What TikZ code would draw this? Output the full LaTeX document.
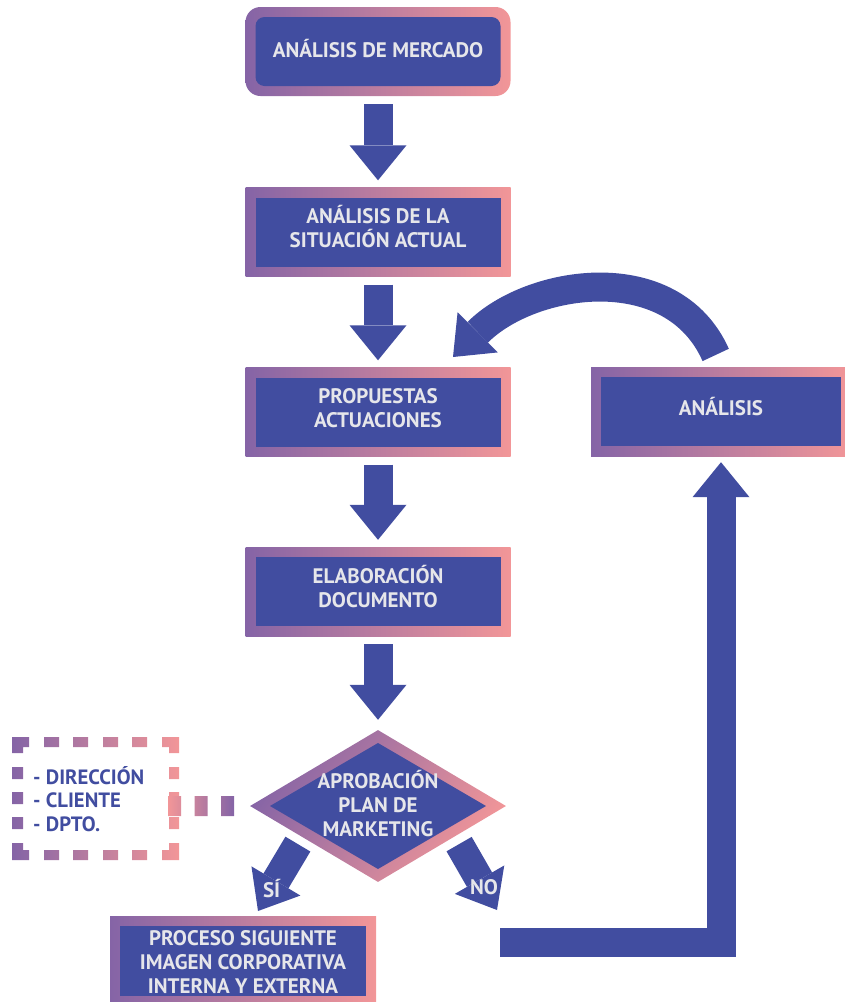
\documentclass[tikz,border=0pt]{standalone}
\usepackage{fontspec}
\setmainfont{PT Sans}
\usetikzlibrary{arrows.meta,shapes.geometric}
\definecolor{boxblue}{HTML}{414DA0}
\definecolor{purp}{HTML}{8564A6}
\definecolor{pinkc}{HTML}{F29698}
\definecolor{lightgrey}{HTML}{E6E6EA}
\newcommand{\boxfont}{\fontsize{21}{24}\selectfont\bfseries}

\begin{document}
\begin{tikzpicture}[x=1pt, y=1pt,
        box/.style={rectangle, minimum width=265pt, minimum height=89pt, inner sep=0pt, left color=purp, right color=pinkc, text=lightgrey, align=center, font=\boxfont, text height=39pt, text depth=7.3pt,
            path picture={\fill[boxblue] ([shift={(10pt,10pt)}]path picture bounding box.south west) rectangle ([shift={(-10pt,-10pt)}]path picture bounding box.north east);}},
        roundbox/.style={box, rounded corners=15pt,
            path picture={\fill[boxblue, rounded corners=9pt] ([shift={(10pt,10pt)}]path picture bounding box.south west) rectangle ([shift={(-10pt,-10pt)}]path picture bounding box.north east);}},
        decision/.style={diamond, minimum width=256pt, minimum height=152pt, aspect=1.68, inner sep=0pt, top color=purp, bottom color=pinkc, shading angle=55, text=lightgrey, align=center, font=\boxfont, text height=67pt, text depth=5.3pt,
            path picture={\fill[boxblue] ([yshift=63pt]path picture bounding box.center) -- ([xshift=108pt]path picture bounding box.center) -- ([yshift=-63pt]path picture bounding box.center) -- ([xshift=-108pt]path picture bounding box.center) -- cycle;}},
        bigarrow/.style={draw=boxblue, line width=29pt, -{Triangle[length=35pt, width=57pt, line width=0pt]}, shorten <=8pt, shorten >=7pt}
    ]
        \useasboundingbox (0,0) rectangle (845,-1002);
        \clip (0,0) rectangle (845,-1002);

        \node[roundbox, text height=15pt, text depth=3.3pt] (market) at (378,-51.5) {ANÁLISIS DE MERCADO};
        \node[box] (current) at (378,-232) {ANÁLISIS DE LA\\SITUACIÓN ACTUAL};
        \node[box] (proposal) at (378,-412) {PROPUESTAS\\ACTUACIONES};
        \node[box] (document) at (378,-591.5) {ELABORACIÓN\\DOCUMENTO};
        \node[decision] (approval) at (378,-806) {APROBACIÓN\\PLAN DE\\MARKETING};
        \node[box, minimum width=266pt, minimum height=90pt, text height=70pt, text depth=5.3pt] (next) at (243,-961) {PROCESO SIGUIENTE\\IMAGEN CORPORATIVA\\INTERNA Y EXTERNA};
        \node[box, minimum width=260pt, text height=15pt, text depth=7.3pt] (review) at (721,-411.5) {ANÁLISIS};

        \node[text=boxblue, font=\fontsize{20.7}{23.5}\selectfont\bfseries, align=left, anchor=west, inner sep=0pt] (voters) at (33,-799) {- DIRECCIÓN\\- CLIENTE\\- DPTO.};
        \shade[left color=purp, right color=pinkc] (12,-737) rectangle (29,-747) (12,-737) rectangle (23,-753)
            (162,-737) rectangle (179,-747) (169,-737) rectangle (179,-753)
            (12,-843) rectangle (23,-860) (12,-850) rectangle (29,-860)
            (169,-843) rectangle (179,-860) (162,-850) rectangle (179,-860)
            \foreach \x in {44,73,103,132} {(\x,-737) rectangle ++(15,-10) (\x,-850) rectangle ++(15,-10)}
            \foreach \y in {767,792,817} {(12,-\y) rectangle ++(11,-12) (169,-\y) rectangle ++(10,-12)};
        \shade[left color=pinkc, right color=purp] \foreach \x in {168,194.5,221} {(\x,-796) rectangle ++(13,-20)};

        \coordinate (backtip) at (453,-357);
        \coordinate (yestip) at (258,-911);
        \coordinate (notip) at (497,-910);
        \coordinate (returnstart) at (500,-942.5);

        \draw[bigarrow] (market) -- (current);
        \draw[bigarrow] (current) -- (proposal);
        \draw[bigarrow] (proposal) -- (document);
        \draw[bigarrow, shorten >=10pt] (document) -- (approval);
        \draw[bigarrow, shorten <=0pt, shorten >=0pt] ([xshift=-16pt]approval.south west) -- (yestip) node[pos=0.66, text=lightgrey, font=\boxfont] {SÍ};
        \draw[bigarrow, shorten <=0pt, shorten >=0pt] ([xshift=17pt]approval.south east) -- (notip) node[pos=0.66, text=lightgrey, font=\boxfont] {NO};
        \draw[bigarrow, shorten <=0pt, shorten >=6pt] (returnstart) -| (review.south);
        \draw[bigarrow, shorten <=13pt, shorten >=0pt] (review.north) .. controls +(114:120) and +(45:110) .. (backtip);
    \end{tikzpicture}
\end{document}
